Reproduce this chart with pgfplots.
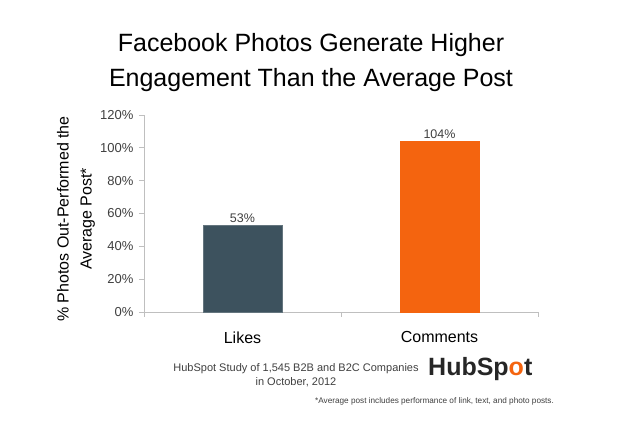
\documentclass[border=0pt]{standalone}
\usepackage{pgfplots}
\pgfplotsset{compat=1.18}
\usepackage{fontspec}
\setmainfont{Liberation Sans}
\definecolor{slate}{HTML}{3D525E}
\definecolor{hsorange}{HTML}{F4640F}
\definecolor{txt}{HTML}{3F3F3F}
\definecolor{axgray}{HTML}{BFBFBF}
\begin{document}
\begin{tikzpicture}[x=1pt,y=1pt]
\useasboundingbox (0,0) rectangle (621,425);
\begin{axis}[
  at={(144pt,113pt)}, anchor=south west,
  scale only axis, width=394pt, height=197pt,
  xmin=-0.5, xmax=1.5, ymin=0, ymax=120,
  axis x line*=bottom, axis y line*=left,
  axis line style={axgray, line width=0.8pt},
  xtick={-0.5,0.5,1.5}, xticklabels={},
  extra x ticks={0,1}, extra x tick labels={Likes,Comments},
  extra x tick style={major tick length=0pt, tick label style={font=\fontsize{16}{18}\selectfont, text=black, yshift=-16pt}},
  ytick={0,20,...,120},
  yticklabel={\pgfmathprintnumber{\tick}\%},
  /pgf/number format/assume math mode=true,
  yticklabel style={font=\fontsize{13}{15}\selectfont, text=txt, xshift=-2pt},
  tick style={axgray, line width=0.8pt},
  major tick length=5pt,
  tick align=outside,
  ybar, bar width=79pt, bar shift=0pt,
  nodes near coords={\pgfmathprintnumber{\pgfplotspointmeta}\%},
  nodes near coords style={font=\fontsize{12.5}{14}\selectfont, text=txt, yshift=-1pt},
  clip=false,
]
\addplot[fill=slate, draw=slate!80!white] coordinates {(0,53)};
\addplot[fill=hsorange, draw=hsorange] coordinates {(1,104)};
\end{axis}
\node[font=\fontsize{25}{35}\selectfont, text=black, align=center] at (311,362) {Facebook Photos Generate Higher\\Engagement Than the Average Post};
\node[rotate=90, align=center, font=\fontsize{16}{23}\selectfont, text=black] at (76,206) {\% Photos Out-Performed the\\Average Post*};
\node[align=center, font=\fontsize{11}{14}\selectfont, text=txt] at (296,50) {HubSpot Study of 1,545 B2B and B2C Companies\\in October, 2012};
\node[font=\bfseries\fontsize{25}{30}\selectfont, text=black!85, anchor=west, inner sep=0pt] at (428,56) {HubSp\textcolor{hsorange}{o}t};
\node[font=\fontsize{8.2}{9}\selectfont, text=txt, anchor=west, inner sep=0pt] at (315,24) {*Average post includes performance of link, text, and photo posts.};
\end{tikzpicture}
\end{document}
